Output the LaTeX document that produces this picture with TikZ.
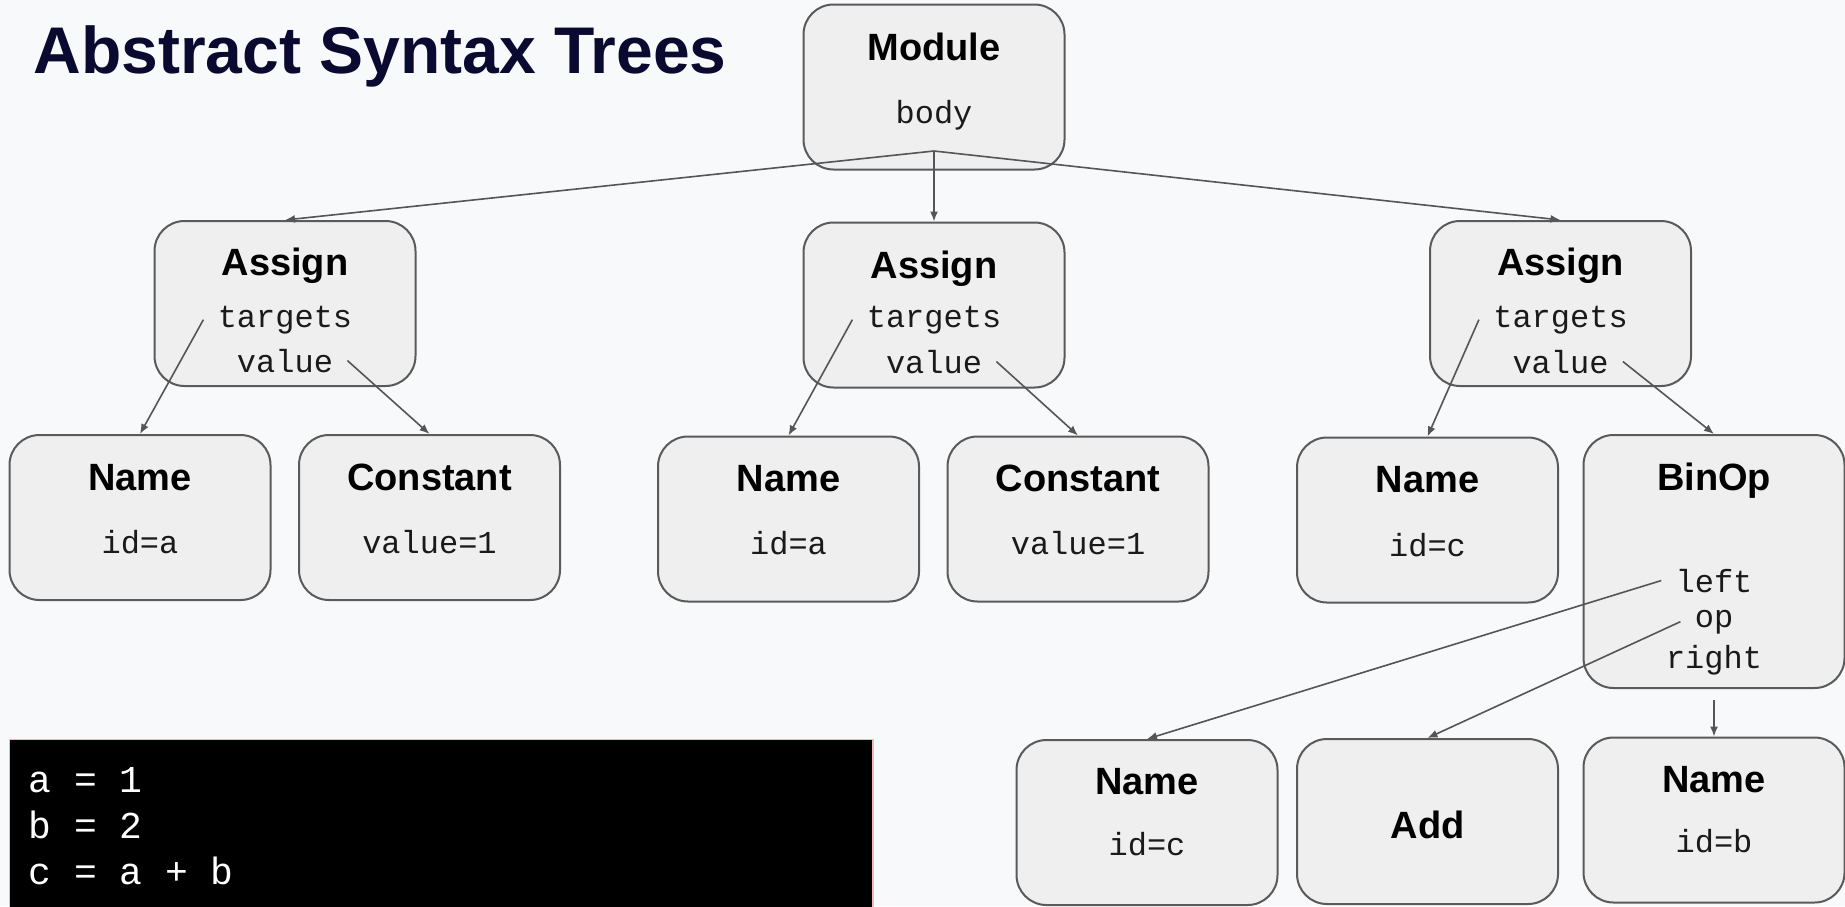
\documentclass[tikz,border=0pt]{standalone}
\usepackage{fontspec}
\setmainfont{Liberation Sans}
\setmonofont{Liberation Mono}
\usetikzlibrary{arrows.meta, positioning, calc}

\definecolor{bgcol}{HTML}{F8F9FB}
\definecolor{boxfill}{HTML}{EFEFEF}
\definecolor{boxline}{HTML}{5A5A5A}
\definecolor{edgecol}{HTML}{555555}
\definecolor{titlecol}{HTML}{0A0A30}
\definecolor{fieldtxt}{HTML}{1A1A1A}
\definecolor{codeedge}{HTML}{F2B8BC}

\tikzset{
  astbox/.style={draw=boxline, fill=boxfill, line width=1pt, rounded corners=15pt,
    minimum width=130.5pt, minimum height=82.5pt, inner sep=0pt},
  head/.style={anchor=base, inner sep=0pt, text=black,
    font=\bfseries\fontsize{19}{22}\selectfont},
  field/.style={anchor=base, inner xsep=7pt, inner ysep=1pt, text=fieldtxt,
    font=\ttfamily\fontsize{16}{18}\selectfont},
  codeline/.style={anchor=base west, inner sep=0pt, text=white,
    font=\ttfamily\fontsize{19}{23}\selectfont},
  edge/.style={draw=edgecol, line width=0.8pt, -{Latex[length=5pt,width=4pt]}},
}

\begin{document}
\begin{tikzpicture}[x=0.5pt,y=-0.5pt]
  \fill[bgcol] (0,0) rectangle (1845,906);
  \useasboundingbox (0,0) rectangle (1845,906);
  \clip (0,0) rectangle (1845,906);

  \node[anchor=base west, inner sep=0pt, text=titlecol,
    font=\bfseries\fontsize{33}{38}\selectfont] (title) at (33,73) {Abstract Syntax Trees};

  % module
  \node[astbox] (mod) at (934,87) {};
  \node[head] (modH) at (934,60.5) {Module};
  \node[field] (modB) at (934,123.5) {body};
  \coordinate (modOut) at (934,151);

  % assign nodes
  \node[astbox] (as1) at (285,303.5) {};
  \node[head] (as1H) at (285,275.5) {Assign};
  \node[field] (as1T) at (285,327) {targets};
  \node[field] (as1V) at (285,372) {value};

  \node[astbox] (as2) at (934,305) {};
  \node[head] (as2H) at (934,278) {Assign};
  \node[field] (as2T) at (934,327) {targets};
  \node[field] (as2V) at (934,373) {value};

  \node[astbox] (as3) at (1560.5,303.5) {};
  \node[head] (as3H) at (1560.5,275.5) {Assign};
  \node[field] (as3T) at (1560.5,327) {targets};
  \node[field] (as3V) at (1560.5,373) {value};

  % leaves of a = 1 and b = 2
  \node[astbox] (nm1) at (140,517.5) {};
  \node[head] (nm1H) at (140,490.5) {Name};
  \node[field] (nm1I) at (140,553) {id=a};

  \node[astbox] (cn1) at (429.5,517.5) {};
  \node[head] (cn1H) at (429.5,490.5) {Constant};
  \node[field] (cn1V) at (429.5,553) {value=1};

  \node[astbox] (nm2) at (788.5,519) {};
  \node[head] (nm2H) at (788.5,491.5) {Name};
  \node[field] (nm2I) at (788.5,554) {id=a};

  \node[astbox] (cn2) at (1078,519) {};
  \node[head] (cn2H) at (1078,491.5) {Constant};
  \node[field] (cn2V) at (1078,554) {value=1};

  % c = a + b
  \node[astbox] (nm3) at (1427.5,520) {};
  \node[head] (nm3H) at (1427.5,492.5) {Name};
  \node[field] (nm3I) at (1427.5,556) {id=c};

  \node[astbox, minimum height=126.5pt] (bin) at (1714,561.5) {};
  \node[head] (binH) at (1714,490.5) {BinOp};
  \node[field] (binL) at (1714,592) {left};
  \node[field] (binO) at (1714,627) {op};
  \node[field] (binR) at (1714,668) {right};
  \coordinate (binOut) at (1714,700);

  \node[astbox] (nm4) at (1147,822.5) {};
  \node[head] (nm4H) at (1147,794.5) {Name};
  \node[field] (nm4I) at (1147,855) {id=c};

  \node[astbox] (add) at (1427.5,821.5) {};
  \node[head] (addH) at (1427.5,838.5) {Add};

  \node[astbox] (nm5) at (1714,820) {};
  \node[head] (nm5H) at (1714,792.5) {Name};
  \node[field] (nm5I) at (1714,852) {id=b};

  % edges
  \draw[edge] (modOut) -- (as1.north);
  \draw[edge] (modOut) -- (as2.north);
  \draw[edge] (modOut) -- (as3.north);
  \draw[edge] (as1T.west) -- (nm1.north);
  \draw[edge] (as1V.east) -- (cn1.north);
  \draw[edge] (as2T.west) -- (nm2.north);
  \draw[edge] (as2V.east) -- (cn2.north);
  \draw[edge] (as3T.west) -- (nm3.north);
  \draw[edge] (as3V.east) -- (bin.north);
  \draw[edge] (binL.west) -- (nm4.north);
  \draw[edge] (binO.west) -- (add.north);
  \draw[edge] (binOut) -- (nm5.north);

  % source code
  \draw[draw=codeedge, fill=black, line width=0.6pt] (9.5,739.5) rectangle (873,920);
  \node[codeline] (code1) at (28,792) {a = 1};
  \node[codeline] (code2) at (28,838) {b = 2};
  \node[codeline] (code3) at (28,884) {c = a + b};
\end{tikzpicture}
\end{document}
